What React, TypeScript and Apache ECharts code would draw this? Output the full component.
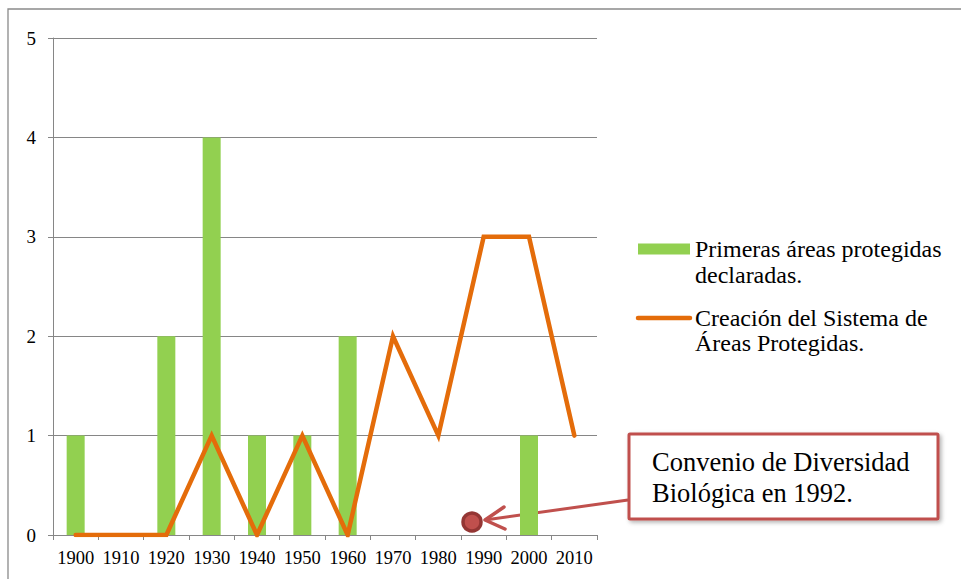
import React, { useEffect, useRef } from "react";
import * as echarts from "echarts";

const categories = ["1900", "1910", "1920", "1930", "1940", "1950", "1960", "1970", "1980", "1990", "2000", "2010"];
const primerasAreas = [1, 0, 2, 4, 1, 1, 2, 0, 0, 0, 1, 0];
const creacionSistema = [0, 0, 0, 1, 0, 1, 0, 2, 1, 3, 3, 1];
const seriesNames = ["Primeras áreas protegidas declaradas.", "Creación del Sistema de Áreas Protegidas."];
const legendLabels = ["Primeras áreas protegidas\ndeclaradas.", "Creación del Sistema de\nÁreas Protegidas."];
const annotationText = "Convenio de Diversidad\nBiológica en 1992.";

const FONT = "Liberation Serif";
const GREEN = "#92D050";
const ORANGE = "#E46C0A";

export default function App() {
  const ref = useRef<HTMLDivElement>(null);
  useEffect(() => {
    if (!ref.current) return;
    const chart = echarts.init(ref.current, undefined, { renderer: "svg" });
    chart.setOption({
      animation: false,
      backgroundColor: "#fff",
      textStyle: { fontFamily: FONT },
      grid: { left: 53, top: 38, width: 544, height: 497, containLabel: false },
      legend: { show: false },
      xAxis: {
        type: "category",
        data: categories,
        boundaryGap: true,
        axisLine: { lineStyle: { color: "#868686", width: 1 } },
        axisTick: { show: true, length: 5, lineStyle: { color: "#868686" } },
        axisLabel: { color: "#000", fontFamily: FONT, fontSize: 18.5, margin: 13, interval: 0 },
      },
      yAxis: {
        type: "value",
        min: 0,
        max: 5,
        interval: 1,
        axisLine: { show: true, lineStyle: { color: "#868686", width: 1 } },
        axisTick: { show: true, length: 5, lineStyle: { color: "#868686" } },
        splitLine: { show: true, lineStyle: { color: "#868686", width: 1 } },
        axisLabel: { color: "#000", fontFamily: FONT, fontSize: 19, margin: 17 },
      },
      series: [
        {
          name: seriesNames[0],
          type: "bar",
          data: primerasAreas,
          barWidth: 18,
          itemStyle: { color: GREEN },
        },
        {
          name: seriesNames[1],
          type: "line",
          data: creacionSistema,
          symbol: "none",
          lineStyle: { color: ORANGE, width: 4.5, cap: "round", join: "miter" },
          itemStyle: { color: ORANGE },
        },
      ],
      graphic: [
        {
          type: "rect",
          silent: true,
          shape: { x: 8, y: 9, width: 1200, height: 1000 },
          style: { fill: "none", stroke: "#8a8a8a", lineWidth: 1.3 },
        },
        // legend
        {
          type: "rect",
          silent: true,
          shape: { x: 638, y: 243.5, width: 52, height: 11 },
          style: { fill: GREEN },
        },
        {
          type: "text",
          silent: true,
          x: 695,
          y: 235.5,
          style: { text: legendLabels[0], fontFamily: FONT, fontSize: 24, lineHeight: 26.5, fill: "#000" },
        },
        {
          type: "line",
          silent: true,
          shape: { x1: 638, y1: 318, x2: 690, y2: 318 },
          style: { stroke: ORANGE, lineWidth: 4.5, lineCap: "round" },
        },
        {
          type: "text",
          silent: true,
          x: 695,
          y: 305,
          style: { text: legendLabels[1], fontFamily: FONT, fontSize: 24, lineHeight: 25, fill: "#000" },
        },
        // annotation
        {
          type: "polyline",
          silent: true,
          shape: { points: [[628, 500], [485, 520]] },
          style: { stroke: "#C0504D", lineWidth: 3, fill: "none" },
        },
        {
          type: "polyline",
          silent: true,
          shape: { points: [[504, 507], [485, 520], [505, 529]] },
          style: { stroke: "#C0504D", lineWidth: 3.5, fill: "none", lineJoin: "round", lineCap: "round" },
        },
        {
          type: "circle",
          silent: true,
          shape: { cx: 472, cy: 522, r: 9 },
          style: { fill: "#C0504D", stroke: "#943634", lineWidth: 3.5 },
        },
        {
          type: "rect",
          silent: true,
          shape: { x: 629, y: 434, width: 309, height: 85, r: 1 },
          style: {
            fill: "#fff",
            stroke: "#C0504D",
            lineWidth: 3,
            shadowBlur: 4,
            shadowOffsetX: 2,
            shadowOffsetY: 2,
            shadowColor: "rgba(0,0,0,0.3)",
          },
        },
        {
          type: "text",
          silent: true,
          x: 652,
          y: 446,
          style: {
            text: annotationText,
            fontFamily: FONT,
            fontSize: 26.5,
            lineHeight: 31,
            fill: "#000",
          },
        },
      ],
    });
    return () => chart.dispose();
  }, []);
  return (
    <div
      ref={ref}
      style={{ position: "fixed", left: 0, top: 0, width: 961, height: 579 }}
    />
  );
}
